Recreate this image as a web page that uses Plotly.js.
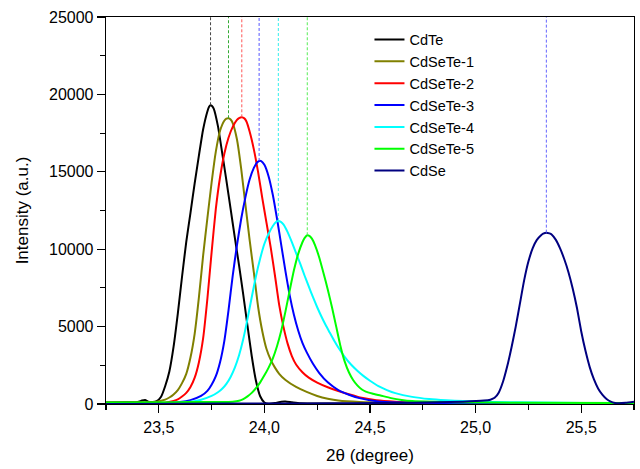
<!DOCTYPE html>
<html>
<head>
<meta charset="utf-8">
<script src="https://cdn.plot.ly/plotly-3.0.1.min.js"></script>
<style>html,body{margin:0;padding:0;background:#fff;}#chart{width:640px;height:469px;}</style>
</head>
<body>
<div id="chart"></div>
<script>
// ---- data ----
const seriesNames = ["CdTe", "CdSeTe-1", "CdSeTe-2", "CdSeTe-3", "CdSeTe-4", "CdSeTe-5", "CdSe"];

const cdteX = [23.25, 23.35, 23.40, 23.42, 23.435, 23.45, 23.47, 23.49, 23.51, 23.53, 23.55, 23.57, 23.59, 23.61, 23.63, 23.65, 23.67, 23.69, 23.71, 23.73, 23.738, 23.745, 23.752, 23.76, 23.78, 23.80, 23.82, 23.84, 23.86, 23.88, 23.90, 23.92, 23.94, 23.96, 23.98, 24.00, 24.02, 24.05, 24.08, 24.10, 24.13, 24.17, 24.3, 24.6, 25.0, 25.75];
const cdteY = [100, 110, 130, 220, 260, 150, 130, 180, 450, 1150, 2100, 3700, 5840, 8220, 10480, 12350, 14270, 16060, 17750, 18900, 19200, 19300, 19250, 19080, 17950, 16230, 14450, 12600, 10750, 8950, 7050, 5050, 3100, 1500, 500, 100, 20, 60, 150, 160, 110, 50, 30, 20, 10, 0];

const cdsete1X = [23.25, 23.35, 23.45, 23.49, 23.53, 23.55, 23.57, 23.59, 23.61, 23.63, 23.65, 23.67, 23.69, 23.71, 23.73, 23.75, 23.77, 23.79, 23.81, 23.82, 23.83, 23.84, 23.85, 23.87, 23.89, 23.91, 23.93, 23.95, 23.97, 23.99, 24.01, 24.03, 24.05, 24.07, 24.10, 24.15, 24.20, 24.25, 24.30, 24.35, 24.45, 24.6, 25.0, 25.75];
const cdsete1Y = [90, 100, 120, 150, 280, 420, 620, 900, 1350, 1950, 3000, 4550, 6900, 9600, 12000, 14300, 16300, 17650, 18300, 18430, 18460, 18380, 18150, 17100, 15200, 12900, 10600, 8500, 6300, 4700, 3550, 2850, 2350, 1950, 1550, 1100, 780, 520, 340, 220, 130, 100, 60, 30];

const cdsete2X = [23.25, 23.45, 23.53, 23.57, 23.59, 23.61, 23.63, 23.65, 23.67, 23.69, 23.71, 23.73, 23.75, 23.77, 23.79, 23.81, 23.83, 23.85, 23.87, 23.88, 23.893, 23.905, 23.915, 23.93, 23.95, 23.97, 23.99, 24.01, 24.03, 24.05, 24.07, 24.09, 24.11, 24.13, 24.15, 24.18, 24.21, 24.25, 24.30, 24.35, 24.40, 24.46, 24.53, 24.62, 24.8, 25.0, 25.75];
const cdsete2Y = [60, 70, 85, 200, 300, 480, 720, 1100, 1700, 2700, 4250, 6800, 9800, 12600, 14650, 16150, 17200, 17900, 18350, 18470, 18520, 18450, 18250, 17600, 16450, 15000, 13300, 11700, 10100, 8300, 6400, 5000, 3900, 3100, 2550, 2050, 1700, 1380, 1080, 840, 630, 400, 240, 150, 80, 50, 20];

const cdsete3X = [23.25, 23.5, 23.6, 23.65, 23.70, 23.73, 23.75, 23.77, 23.79, 23.81, 23.83, 23.85, 23.87, 23.89, 23.91, 23.93, 23.95, 23.965, 23.975, 23.985, 24.00, 24.02, 24.04, 24.06, 24.08, 24.10, 24.12, 24.14, 24.16, 24.18, 24.20, 24.23, 24.26, 24.30, 24.35, 24.40, 24.45, 24.54, 24.7, 25.0, 25.75];
const cdsete3Y = [40, 50, 130, 250, 520, 850, 1250, 1800, 2700, 4050, 6050, 8300, 10250, 11950, 13350, 14500, 15250, 15600, 15700, 15690, 15450, 14700, 13500, 11950, 10250, 8550, 7000, 5750, 4750, 3950, 3350, 2600, 2000, 1400, 900, 600, 380, 160, 80, 50, 20];

const cdsete4X = [23.25, 23.5, 23.65, 23.70, 23.75, 23.78, 23.80, 23.82, 23.84, 23.86, 23.88, 23.90, 23.92, 23.94, 23.96, 23.98, 24.00, 24.02, 24.04, 24.055, 24.066, 24.078, 24.09, 24.11, 24.13, 24.15, 24.17, 24.19, 24.21, 24.23, 24.25, 24.27, 24.29, 24.31, 24.33, 24.35, 24.38, 24.41, 24.44, 24.47, 24.50, 24.54, 24.58, 24.62, 24.70, 24.78, 24.86, 24.94, 25.09, 25.3, 25.5, 25.75];
const cdsete4Y = [30, 40, 150, 280, 520, 760, 980, 1300, 1750, 2350, 3150, 4200, 5500, 6900, 8250, 9400, 10350, 11000, 11500, 11760, 11820, 11760, 11600, 11100, 10450, 9750, 9050, 8300, 7600, 6900, 6250, 5650, 5100, 4600, 4100, 3650, 3050, 2550, 2150, 1800, 1500, 1150, 900, 700, 460, 320, 240, 190, 130, 90, 70, 60];

const cdsete5X = [23.25, 23.6, 23.85, 23.88, 23.90, 23.92, 23.94, 23.96, 23.98, 24.00, 24.02, 24.04, 24.06, 24.08, 24.10, 24.12, 24.14, 24.16, 24.18, 24.19, 24.203, 24.213, 24.225, 24.24, 24.26, 24.28, 24.30, 24.32, 24.34, 24.36, 24.38, 24.40, 24.42, 24.44, 24.46, 24.48, 24.51, 24.55, 24.60, 24.65, 24.70, 24.8, 24.9, 25.2, 25.75];
const cdsete5Y = [100, 120, 150, 210, 320, 490, 720, 1020, 1400, 1850, 2350, 2950, 3750, 4750, 6000, 7350, 8650, 9700, 10450, 10720, 10900, 10860, 10680, 10250, 9450, 8450, 7400, 6250, 5000, 3750, 2750, 2050, 1550, 1200, 950, 800, 680, 550, 380, 260, 190, 140, 110, 80, 60];

const cdseX = [23.25, 23.6, 24.0, 24.4, 24.7, 24.94, 25.04, 25.07, 25.09, 25.11, 25.13, 25.15, 25.17, 25.19, 25.21, 25.23, 25.25, 25.27, 25.29, 25.31, 25.32, 25.335, 25.35, 25.36, 25.38, 25.40, 25.42, 25.44, 25.46, 25.48, 25.50, 25.52, 25.54, 25.56, 25.58, 25.60, 25.62, 25.64, 25.66, 25.68, 25.71, 25.75];
const cdseY = [0, 20, 30, 50, 80, 150, 220, 280, 400, 750, 1450, 2450, 3650, 5000, 6500, 8000, 9200, 10050, 10600, 10900, 11000, 11070, 11020, 10950, 10600, 10050, 9350, 8500, 7450, 6200, 4700, 3450, 2400, 1600, 1000, 600, 320, 150, 70, 50, 80, 150];

const xTickVals = [23.5, 24.0, 24.5, 25.0, 25.5];
const xTickText = ["23,5", "24,0", "24,5", "25,0", "25,5"];
const yTickVals = [0, 5000, 10000, 15000, 20000, 25000];
const yTickText = ["0", "5000", "10000", "15000", "20000", "25000"];

// ---- styling ----
const lineColors = ["#000000", "#808000", "#ff0000", "#0000ff", "#00ffff", "#00ff00", "#000080"];
const dashColors = ["#444444", "#33aa33", "#ff5555", "#5555ff", "#33eeee", "#55ee55", "#6666ff"];

const xs = [cdteX, cdsete1X, cdsete2X, cdsete3X, cdsete4X, cdsete5X, cdseX];
const ys = [cdteY, cdsete1Y, cdsete2Y, cdsete3Y, cdsete4Y, cdsete5Y, cdseY];

const traces = [];
for (let i = 0; i < seriesNames.length; i++) {
  traces.push({
    x: xs[i], y: ys[i], name: seriesNames[i], type: 'scatter', mode: 'lines',
    line: {color: lineColors[i], width: 2, shape: 'spline', smoothing: 0.5},
    hoverinfo: 'skip'
  });
}
// dashed guide lines from each peak up to the top of the frame
for (let i = 0; i < seriesNames.length; i++) {
  const yArr = ys[i];
  let k = 0;
  for (let j = 1; j < yArr.length; j++) if (yArr[j] > yArr[k]) k = j;
  traces.push({
    x: [xs[i][k], xs[i][k]], y: [yArr[k], yTickVals[yTickVals.length - 1]],
    type: 'scatter', mode: 'lines', showlegend: false, hoverinfo: 'skip',
    line: {color: dashColors[i], width: 1, dash: '3px,2px'}
  });
}

const font = 'Arial, "Liberation Sans", sans-serif';
const layout = {
  width: 640, height: 469,
  margin: {l: 106, r: 6, t: 17, b: 65},
  paper_bgcolor: '#fff', plot_bgcolor: '#fff',
  showlegend: true,
  legend: {x: 0.499, y: 0.983, xanchor: 'left', yanchor: 'top', bgcolor: 'rgba(0,0,0,0)',
           font: {family: font, size: 14.5, color: '#000'}, tracegroupgap: 0},
  xaxis: {
    range: [23.25, 25.75], showgrid: false, zeroline: false,
    showline: true, linecolor: '#000', linewidth: 1.3, mirror: true,
    ticks: 'outside', ticklen: 8, tickwidth: 1.2, tickcolor: '#000',
    tickvals: xTickVals, ticktext: xTickText,
    tickfont: {family: font, size: 16, color: '#000'},
    minor: {dtick: 0.25, tick0: 23.25, ticks: 'outside', ticklen: 5, tickwidth: 1.2, tickcolor: '#000', showgrid: false},
    title: {text: '2θ (degree)', font: {family: font, size: 17, color: '#000'}, standoff: 14}
  },
  yaxis: {
    range: [0, 25000], showgrid: false, zeroline: false,
    showline: true, linecolor: '#000', linewidth: 1.3, mirror: true,
    ticks: 'outside', ticklen: 8, tickwidth: 1.2, tickcolor: '#000',
    tickvals: yTickVals, ticktext: yTickText,
    tickfont: {family: font, size: 16, color: '#000'},
    minor: {dtick: 2500, ticks: 'outside', ticklen: 5, tickwidth: 1.2, tickcolor: '#000', showgrid: false},
    title: {text: 'Intensity (a.u.)', font: {family: font, size: 17, color: '#000'}, standoff: 16}
  }
};

Plotly.newPlot('chart', traces, layout, {staticPlot: true, displayModeBar: false});
</script>
</body>
</html>
